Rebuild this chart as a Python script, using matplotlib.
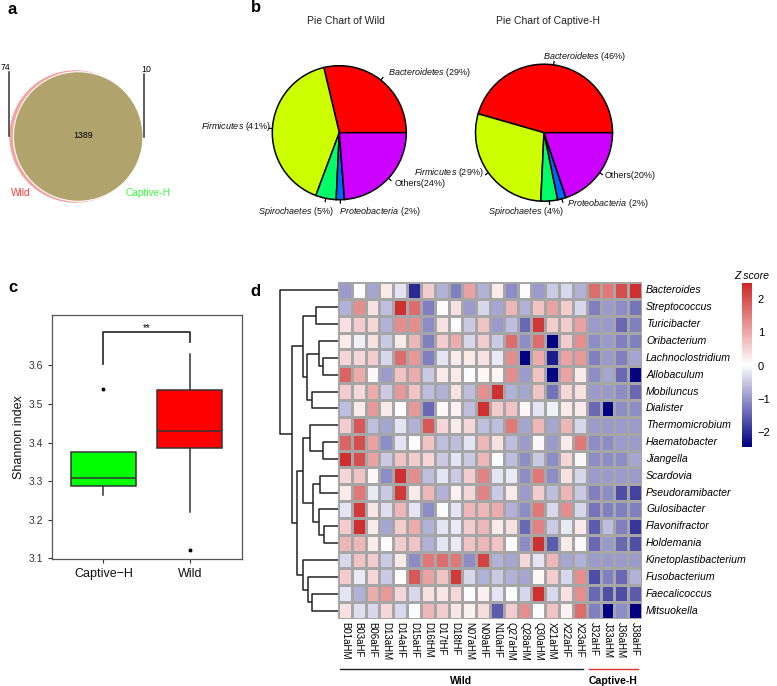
import numpy as np
import matplotlib
matplotlib.use('Agg')
import matplotlib.pyplot as plt
from matplotlib.colors import LinearSegmentedColormap, Normalize
from matplotlib.patches import Circle
from matplotlib.colorbar import ColorbarBase

plt.rcParams['font.family'] = ['Liberation Sans', 'DejaVu Sans']
plt.rcParams['mathtext.fontset'] = 'custom'
plt.rcParams['mathtext.it'] = 'Liberation Sans:italic'
plt.rcParams['mathtext.rm'] = 'Liberation Sans'

# ---------------- DATA ----------------
venn_names = ['Wild', 'Captive-H']
venn_only_wild = 74
venn_shared = 1389
venn_only_captive = 10

phyla = ['Bacteroidetes', 'Firmicutes', 'Spirochaetes', 'Proteobacteria', 'Others']
pie_wild = [29, 41, 5, 2, 24]
pie_captive = [46, 29, 4, 2, 20]
phyla_colors = ['#FF0000', '#CCFF00', '#00FF66', '#0066FF', '#CC00FF']

box_groups = ['Captive\u2212H', 'Wild']
box_colors = ['#00FF00', '#FF0000']
box_q1 = [3.287, 3.385]
box_med = [3.308, 3.429]
box_q3 = [3.375, 3.537]
box_whislo = [3.265, 3.22]
box_whishi = [3.375, 3.631]
box_fliers = [[3.538], [3.122]]
sig_label = '**'

genera = ['Bacteroides', 'Streptococcus', 'Turicibacter', 'Oribacterium',
          'Lachnoclostridium', 'Allobaculum', 'Mobiluncus', 'Dialister',
          'Thermomicrobium', 'Haematobacter', 'Jiangella', 'Scardovia',
          'Pseudoramibacter', 'Gulosibacter', 'Flavonifractor', 'Holdemania',
          'Kinetoplastibacterium', 'Fusobacterium', 'Faecalicoccus', 'Mitsuokella']
samples = ['B01aHM', 'B03aHF', 'B06aHF', 'D13aHM', 'D14aHF', 'D15aHF', 'D16tHM',
           'D17tHF', 'D18tHF', 'N07aHM', 'N09aHF', 'N10aHF', 'Q27aHM', 'Q28aHM',
           'Q30aHM', 'X21aHM', 'X22aHF', 'X23aHF', 'J32aHF', 'J33aHM', 'J36aHM', 'J38aHF']
sample_groups = ['Wild', 'Captive-H']
sample_group_sizes = [18, 4]

zscore = np.array([
    [-0.96, 0, -0.84, 0.24, -0.24, -2.04, 0.6, -0.72, -1.2, 1.08, -0.72, 0.24, -1.08, 0, -0.96, -0.48, -0.36, -0.72, 1.68, 1.56, 2.04, 2.4],
    [-0.72, 1.32, 0.36, -0.6, 2.4, 1.68, -1.2, 0, 0.36, -0.96, -0.36, -0.84, 0.84, -0.72, 0.72, 1.08, 0.6, -0.36, -1.2, -0.96, -1.08, -1.32],
    [0.36, 0.6, 0.48, -0.72, 1.32, 1.32, -1.08, 0.36, 0, -0.48, 0.72, -0.96, -0.6, -1.44, 2.28, 0.6, 0.6, 1.08, -0.96, -0.96, -1.44, -1.2],
    [0.24, -0.12, 0.36, -0.48, 0.24, 0.84, -1.2, 0.6, 0.96, -0.36, 0.6, -0.48, 1.68, -1.08, 1.68, -2.4, 0.6, 1.32, -1.08, -0.96, -1.2, -1.2],
    [0.48, 0.48, 0.6, -0.36, 1.68, 1.2, -1.2, -0.24, 0.24, 0.24, 0.36, -0.18, 1.32, -2.4, 0.96, -2.16, 1.08, 1.2, -1.2, -0.96, -1.2, -0.84],
    [1.8, 0.96, 0.12, -0.96, 0.72, 0.96, -0.48, 0.24, 0.24, 0, 0.12, 0.12, 1.32, -0.96, 0.72, -2.4, 1.08, 0.24, -1.08, -0.84, -1.44, -2.4],
    [0.6, 0.48, 0.96, -0.48, 1.2, 0.72, -0.6, -0.72, 0.36, -0.6, 1.32, 2.4, -0.72, -0.84, 0.72, -1.32, 0.48, 0.36, -0.96, -0.96, -1.08, -1.44],
    [-0.6, 0.24, 1.2, 0.24, 0, 1.2, -1.44, 0.12, 0.18, -0.6, 2.4, 0.6, 0.72, 0.12, -0.24, -0.12, 0.24, 0.24, -1.44, -2.4, -1.08, -1.08],
    [0.6, 1.92, -0.6, -0.84, -0.24, -0.72, 1.92, 0.48, 0.24, 0.48, -0.6, -0.6, 1.56, -0.84, 0.84, -0.84, 0.84, -0.36, -0.96, -0.96, -0.96, -0.96],
    [1.8, 2.04, 1.08, -1.08, -0.24, 0, 0.72, -0.6, -0.6, -0.24, 0.84, 0.36, -0.6, -0.96, 0.12, -0.96, 0.24, 1.56, -1.08, -1.08, -0.96, -0.96],
    [2.4, 2.04, 1.08, -0.48, 0.72, 0.6, 0.48, -0.48, -0.24, -0.48, 0.84, 0, -0.6, -1.08, -0.48, -1.08, 0.48, 0.12, -1.08, -1.08, -1.08, -0.84],
    [0.48, 0.72, 0.12, -1.08, 2.4, 1.32, -0.6, -0.24, -0.48, 0.6, 1.44, -0.24, -0.18, -1.08, 1.56, -1.08, 0.36, -0.36, -0.96, -0.96, -0.96, -0.96],
    [0.24, 1.56, -0.18, -0.48, 2.28, 0.24, 0.84, -0.72, 0.18, 0.48, 1.44, -0.48, 0.24, -0.96, 0.6, -0.6, 0.84, -0.48, -1.2, -1.08, -1.68, -1.8],
    [-0.24, 2.28, 0.3, -0.3, 0.84, -0.24, -1.08, 0, -0.24, 0.84, 0.84, 0.96, -0.72, -1.08, 1.56, -0.36, 1.32, -0.36, -1.32, -1.2, -1.2, -1.2],
    [0.6, 2.4, 0.24, -0.84, 0.6, 0.96, -0.72, -0.24, -0.18, 0.6, 0.84, 0.24, 0.36, -1.44, 1.44, -0.48, -0.18, 0.24, -1.56, -0.6, -1.2, -1.92],
    [0.84, 0.84, 0.24, 0, 0.6, 0.72, -0.72, -0.24, -0.18, 0.72, 0.84, 0.72, 0.06, -1.08, 2.4, -1.56, 0.24, 0.12, -1.44, -0.96, -1.44, -1.68],
    [-0.36, 0.72, 0.6, -0.48, 0.24, -1.08, 1.56, 1.68, 1.56, -1.08, 2.16, -0.72, -0.84, 0.48, -0.24, 0.84, -0.84, -0.72, -0.96, -0.96, -0.96, -0.96],
    [0.6, -0.18, 0.48, -0.48, 0.06, 1.92, 1.08, 0.72, 2.28, -0.36, -0.72, -0.48, -0.72, -0.84, 0.12, 0.6, -0.36, 1.32, -1.68, -1.2, -1.44, -0.72],
    [-0.24, -0.72, 0.96, 1.2, 0.48, -0.36, 0.36, 0.3, 0.48, 0, 0.18, -0.24, 0, -0.36, 2.4, -0.36, 0.36, 1.32, -1.44, -1.68, -1.68, -1.56],
    [0.36, -0.3, -0.36, 0.48, -0.36, 0, 0.84, 0.6, 0.3, 0.18, 0.42, -1.56, 0.6, 1.32, 0, 0.72, 0.18, 1.68, -1.2, -2.4, -1.08, -2.45],
])
z_range = (-2.45, 2.5)

# row dendrogram: (child a, child b, height); leaves 0..19, merge k -> node 20+k
row_merges = [
    (1, 2, 22.3), (4, 5, 15.3), (3, 21, 19.0), (6, 7, 26.3), (22, 23, 31.3),
    (20, 24, 34.7), (9, 10, 15.3), (11, 12, 18.0), (14, 15, 14.0), (13, 28, 19.0),
    (27, 29, 24.7), (8, 26, 28.0), (31, 30, 34.7), (18, 19, 26.3), (17, 33, 30.3),
    (16, 34, 35.0), (32, 35, 41.3), (25, 36, 46.3), (0, 37, 58.0),
]

# ---------------- FIGURE ----------------
W, H = 777, 686
fig = plt.figure(figsize=(W / 100, H / 100), dpi=100)


def px_axes(x0, y0, x1, y1, **kw):
    return fig.add_axes([x0 / W, 1 - y1 / H, (x1 - x0) / W, (y1 - y0) / H], **kw)


ov = fig.add_axes([0, 0, 1, 1])
ov.set_xlim(0, W)
ov.set_ylim(H, 0)
ov.axis('off')
ov.set_zorder(5)

# panel letters
for lab, (x, y) in zip('abcd', [(12, 9), (256, 8), (13, 287), (255, 291)]):
    ov.text(x, y, lab, fontsize=12, fontweight='bold', ha='center', va='center')

# ---------------- (a) Venn ----------------
n_wild = venn_only_wild + venn_shared
n_capt = venn_only_captive + venn_shared
k = 64.8 / np.sqrt(n_capt)
r_w, r_c = k * np.sqrt(n_wild), k * np.sqrt(n_capt)
cy = 136.5
ov.add_patch(Circle((75.6, cy), r_w, facecolor='#F3A3A0', edgecolor='none', zorder=1))
ov.add_patch(Circle((78.2, cy), r_c, facecolor='#B0A46C', edgecolor='white', lw=0.8, zorder=2))
ov.plot([9.3, 9.3], [72, 136], color='#333333', lw=1.1)
ov.plot([144, 144], [74, 137], color='#333333', lw=1.1)
ov.text(5, 68, str(venn_only_wild), fontsize=6.3, ha='center', va='center')
ov.text(146.5, 69.5, str(venn_only_captive), fontsize=6.3, ha='center', va='center')
ov.text(83, 136, str(venn_shared), fontsize=6.3, ha='center', va='center')
ov.text(21, 192.5, venn_names[0], fontsize=7.3, color='#FF3B3B', ha='center', va='center')
ov.text(148.5, 192.5, venn_names[1], fontsize=7.3, color='#3CFF3C', ha='center', va='center')


# ---------------- (b) Pies ----------------
def draw_pie(cx, cy, r, values, title, title_xy, label_offsets):
    half = 95
    ax = px_axes(cx - half, cy - half, cx + half, cy + half)
    ax.pie(values, colors=phyla_colors, startangle=0, counterclock=True, radius=1,
           wedgeprops=dict(edgecolor='black', linewidth=1.1))
    lim = half / r
    ax.set_xlim(-lim, lim)
    ax.set_ylim(-lim, lim)
    ax.set_aspect('equal')
    ax.axis('off')
    tot = float(sum(values))
    cum = 0.0
    for name, v, (dx, dy, ha) in zip(phyla, values, label_offsets):
        mid = np.deg2rad((cum + v / 2) / tot * 360)
        cum += v
        c, s = np.cos(mid), np.sin(mid)
        ax.plot([c, 1.05 * c], [s, 1.05 * s], color='black', lw=0.9)
        tx, ty = 1.05 * c + dx / r, 1.05 * s - dy / r
        if name == 'Others':
            lab = 'Others(%d%%)' % v
        else:
            lab = r'$\it{%s}$ (%d%%)' % (name, v)
        ax.text(tx, ty, lab, fontsize=6.5, ha=ha, va='center', color='#111111',
                clip_on=False)
    ov.text(title_xy[0], title_xy[1], title, fontsize=7.5, ha='center', va='center',
            color='#222222')


draw_pie(339.3, 132.7, 67, pie_wild, 'Pie Chart of Wild', (345.5, 21),
         [(4.8, -4.8, 'left'), (1.0, -1.5, 'right'), (8.0, 10.0, 'right'),
          (-1.4, 8.7, 'left'), (4.0, 3.2, 'left')])
draw_pie(544, 132.7, 68.5, pie_captive, 'Pie Chart of Captive-H', (548, 21),
         [(-10.7, -4.6, 'left'), (-2.0, -2.2, 'right'), (13.7, 7.0, 'right'),
          (4.0, 1.0, 'left'), (2.4, 1.0, 'left')])

# ---------------- (c) Boxplot ----------------
axc = px_axes(51.7, 315, 241.5, 559.3)
stats = []
for i in range(2):
    stats.append(dict(med=box_med[i], q1=box_q1[i], q3=box_q3[i], whislo=box_whislo[i],
                      whishi=box_whishi[i], fliers=box_fliers[i], label=box_groups[i]))
bp = axc.bxp(stats, positions=[1, 2], widths=0.75, patch_artist=True, showcaps=False,
             boxprops=dict(edgecolor='#333333', linewidth=1.1),
             medianprops=dict(color='#333333', linewidth=1.1),
             whiskerprops=dict(color='#333333', linewidth=1.1),
             flierprops=dict(marker='o', markersize=1.8, markerfacecolor='black',
                             markeredgecolor='black'))
for patch, col in zip(bp['boxes'], box_colors):
    patch.set_facecolor(col)
axc.set_xlim(0.4, 2.6)
axc.set_ylim(3.097, 3.731)
axc.set_yticks([3.1, 3.2, 3.3, 3.4, 3.5, 3.6])
axc.tick_params(axis='both', labelsize=7.5, colors='#333333', length=3, width=0.8,
                labelcolor='#333333')
axc.tick_params(axis='x', labelsize=9, labelcolor='#111111')
for sp in axc.spines.values():
    sp.set_color('#555555')
    sp.set_linewidth(0.9)
axc.set_ylabel('Shannon index', fontsize=9, color='#111111', labelpad=2)
axc.plot([1, 1, 2, 2], [3.604, 3.688, 3.688, 3.662], color='#222222', lw=1.2)
axc.text(1.5, 3.698, sig_label, ha='center', va='center', fontsize=7)

# ---------------- (d) Heatmap ----------------
hx0, hy0, hx1, hy1 = 338, 282, 642, 619
axh = px_axes(hx0, hy0, hx1, hy1)
cmap = LinearSegmentedColormap.from_list('pheat', ['#000080', '#FFFFFF', '#CD2626'])
norm = Normalize(vmin=z_range[0], vmax=z_range[1])
axh.pcolormesh(zscore, cmap=cmap, norm=norm, edgecolors='#A6A6A6', linewidth=0.9)
nr, nc = zscore.shape
axh.set_xlim(0, nc)
axh.set_ylim(nr, 0)
axh.axis('off')
for i, g in enumerate(genera):
    axh.text(nc + 0.3, i + 0.5, g, fontsize=7.6, style='italic', ha='left', va='center')
for j, s in enumerate(samples):
    axh.text(j + 0.5, nr + 0.2, s, fontsize=7, rotation=270, ha='center', va='top')

# group annotation lines
cw = (hx1 - hx0) / nc
start = 0
for g, n, col in zip(sample_groups, sample_group_sizes, ['#222222', '#E03030']):
    x0 = hx0 + start * cw + 2
    x1 = hx0 + (start + n) * cw - 4
    ov.plot([x0, x1], [669.3, 669.3], color=col, lw=1.0)
    ov.text((x0 + x1) / 2, 681, g, fontsize=7.6, fontweight='bold', ha='center',
            va='center')
    start += n

# dendrogram
axd = px_axes(278, hy0, hx0, hy1)
axd.set_xlim(60, 0)
axd.set_ylim(nr, 0)
axd.axis('off')
pos = {i: (0.0, i + 0.5) for i in range(nr)}
for kk, (a, b, h) in enumerate(row_merges):
    ha_, ya = pos[a]
    hb_, yb = pos[b]
    axd.plot([ha_, h, h, hb_], [ya, ya, yb, yb], color='#222222', lw=1.1,
             solid_capstyle='butt')
    pos[nr + kk] = (h, (ya + yb) / 2)

# colorbar
axcb = px_axes(741.7, 282.7, 752.3, 446.7)
cb = ColorbarBase(axcb, cmap=cmap, norm=norm, orientation='vertical')
cb.set_ticks([-2, -1, 0, 1, 2])
cb.set_ticklabels(['\u22122', '\u22121', '0', '1', '2'])
cb.outline.set_visible(False)
axcb.tick_params(length=0, labelsize=8, pad=4)
ov.text(752, 276, 'Z score', fontsize=7.6, style='italic', ha='center', va='center')

fig.savefig('out.png', dpi=100)
